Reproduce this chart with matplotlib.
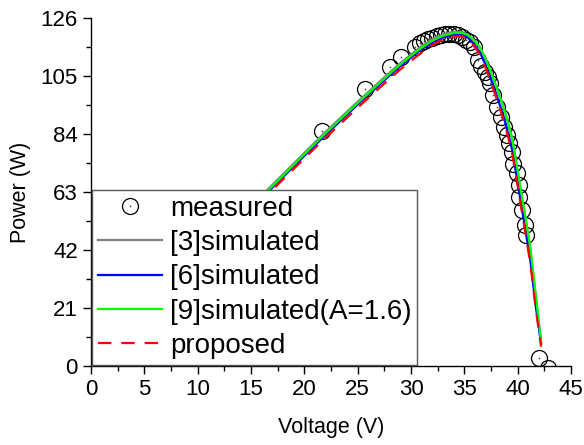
import matplotlib
matplotlib.use("Agg")
import matplotlib.pyplot as plt
from matplotlib.legend_handler import HandlerTuple
from matplotlib.ticker import MultipleLocator

plt.rcParams['font.family'] = ['Liberation Sans', 'DejaVu Sans']

# Measured data
meas_v = [21.7, 25.7, 28.05, 29.1, 30.4, 30.8, 31.2, 31.6, 32.0, 32.4, 32.8, 33.2, 33.6, 34.0,
          34.4, 34.8, 35.2, 35.5, 35.9, 36.3, 36.6, 36.95, 37.2, 37.4, 37.7, 38.05, 38.4, 38.7,
          39.0, 39.2, 39.45, 39.6, 39.9, 40.1, 40.15, 40.4, 40.7, 40.75, 42.03, 42.8]
meas_p = [85.0, 100.2, 108.1, 111.7, 115.4, 116.8, 117.6, 118.3, 118.9, 119.4, 119.8, 120.1, 120.2, 120.1,
          119.7, 119.0, 118.2, 117.4, 115.6, 110.8, 108.8, 106.6, 104.5, 102.4, 98.1, 93.9, 90.3, 86.7,
          83.6, 80.6, 77.6, 73.3, 69.7, 65.5, 61.2, 56.4, 50.9, 47.5, 2.9, -0.7]

# Simulated curves (shared voltage grid)
sim_v = [0, 16.8, 21.7, 24.8, 26.5, 28.0, 29.0, 30.0, 31.0, 32.0, 33.0, 34.0, 34.7, 35.3,
         35.9, 36.5, 37.1, 37.7, 38.2, 38.7, 39.1, 39.5, 39.9, 40.3, 40.7, 41.2, 41.7, 42.2]
p_ref3 = [0, 64.8, 83.7, 95.0, 101.0, 106.3, 109.7, 112.8, 115.8, 118.3, 120.1, 121.0, 121.0, 120.1,
          118.0, 115.1, 110.2, 104.2, 98.9, 93.2, 87.9, 81.9, 72.9, 63.4, 54.4, 42.3, 25.4, 8.5]
p_ref6 = [0, 63.8, 82.6, 93.9, 99.9, 105.2, 108.6, 111.7, 114.7, 117.2, 119.0, 120.0, 120.0, 119.0,
          116.6, 113.3, 108.0, 101.7, 96.0, 90.0, 84.3, 78.0, 68.8, 59.2, 50.0, 38.0, 21.5, 8.0]
p_ref9 = [0, 64.3, 83.2, 94.5, 100.5, 105.8, 109.2, 112.3, 115.3, 117.8, 119.6, 120.6, 120.7, 119.9,
          118.0, 115.2, 110.3, 104.3, 99.0, 93.3, 88.0, 82.0, 73.0, 63.5, 54.5, 42.4, 25.5, 8.5]
p_prop = [0, 63.0, 81.6, 92.8, 98.8, 104.0, 107.4, 110.5, 113.5, 116.2, 118.2, 119.3, 119.4, 118.5,
          116.0, 112.5, 107.0, 100.5, 94.8, 88.8, 83.0, 76.8, 67.5, 58.0, 48.8, 36.8, 20.5, 7.0]

labels = ["measured", "[3]simulated", "[6]simulated", "[9]simulated(A=1.6)", "proposed"]
xticks = [0, 5, 10, 15, 20, 25, 30, 35, 40, 45]
yticks = [0, 21, 42, 63, 84, 105, 126]

fig = plt.figure(figsize=(5.84, 4.45), dpi=100)
ax = fig.add_axes([91/584, 1 - 366/445, 480/584, 348/445])

circ, = ax.plot(meas_v, meas_p, linestyle='none', marker='o', markersize=11.5,
                markerfacecolor='none', markeredgecolor='black', markeredgewidth=0.9)
dot, = ax.plot(meas_v, meas_p, linestyle='none', marker='o', markersize=1.2,
               color='#444444', markeredgewidth=0)
l3, = ax.plot(sim_v, p_ref3, color='#808080', lw=1.6)
l6, = ax.plot(sim_v, p_ref6, color='#0000ff', lw=1.6)
l9, = ax.plot(sim_v, p_ref9, color='#00ff00', lw=1.6)
lp, = ax.plot(sim_v, p_prop, color='#ff0000', lw=1.6, dashes=(6, 4.5))

ax.set_xlim(0, 45)
ax.set_ylim(0, 126)
ax.set_xticks(xticks)
ax.set_yticks(yticks)
ax.xaxis.set_minor_locator(MultipleLocator(2.5))
ax.yaxis.set_minor_locator(MultipleLocator(10.5))
for s in ['top', 'right']:
    ax.spines[s].set_visible(False)
for s in ['left', 'bottom']:
    ax.spines[s].set_linewidth(1.0)
ax.tick_params(which='major', direction='out', length=6, width=1.0, labelsize=16)
ax.tick_params(which='minor', direction='out', length=3.5, width=1.0)
ax.set_xlabel("Voltage (V)", fontsize=15.5, labelpad=12)
ax.set_ylabel("Power (W)", fontsize=15.5, labelpad=7)

leg = ax.legend([(circ, dot), l3, l6, l9, lp], labels,
                handler_map={tuple: HandlerTuple(ndivide=1)},
                loc='lower left', bbox_to_anchor=(0.0, 0.0), borderaxespad=0.05,
                fontsize=20, frameon=True, fancybox=False, framealpha=1,
                edgecolor='#555555', handlelength=2.3, handletextpad=0.3,
                labelspacing=0.3, borderpad=0.2)
leg.get_frame().set_linewidth(1.0)

fig.savefig("out.png", dpi=100)
